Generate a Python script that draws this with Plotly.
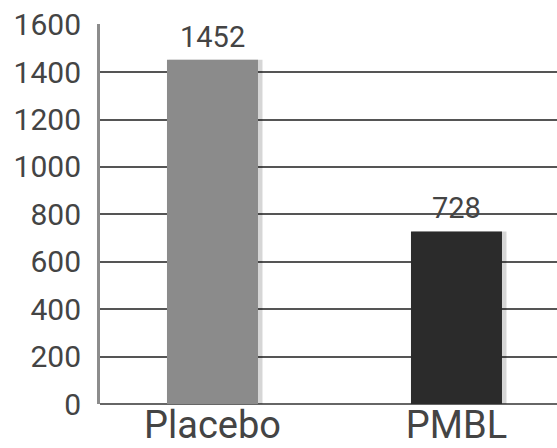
import plotly.graph_objects as go

categories = ["Placebo", "PMBL"]
values = [1452, 728]
bar_colors = ["#8b8b8b", "#2b2b2b"]
y_ticks = [0, 200, 400, 600, 800, 1000, 1200, 1400, 1600]

FONT = "Roboto, 'DejaVu Sans', sans-serif"
TEXT = "#444444"

fig = go.Figure()
# soft shadow to the right of each bar
fig.add_trace(go.Bar(
    x=categories, y=values, width=0.385, offset=-0.18,
    marker=dict(color="rgba(0,0,0,0.16)", line=dict(width=0)),
    hoverinfo="skip", showlegend=False,
))
fig.add_trace(go.Bar(
    x=categories, y=values, width=0.373,
    marker=dict(color=bar_colors, line=dict(width=0)),
    showlegend=False,
))
for c, v in zip(categories, values):
    fig.add_annotation(x=c, y=v, text=str(v), showarrow=False,
                       yanchor="bottom", yshift=4,
                       font=dict(family=FONT, size=29, color=TEXT))

fig.update_layout(
    width=557, height=448,
    margin=dict(l=100, r=0, t=24, b=44),
    paper_bgcolor="white", plot_bgcolor="white",
    barmode="overlay",
    xaxis=dict(range=[-0.461, 1.412], showgrid=False, zeroline=False,
               showline=False, ticks="", ticklen=0, automargin=False,
               ticklabelstandoff=-5,
               tickfont=dict(family=FONT, size=38, color=TEXT)),
    yaxis=dict(range=[0, 1603], tickvals=y_ticks, showgrid=True,
               gridcolor="#555555", gridwidth=2, zeroline=True,
               zerolinecolor="#666666", zerolinewidth=2, automargin=False,
               showline=True, linecolor="#8c8c8c", linewidth=3,
               ticks="outside", ticklen=10, tickcolor="rgba(0,0,0,0)",
               tickfont=dict(family=FONT, size=30, color=TEXT)),
)

fig.write_html("out.html")
